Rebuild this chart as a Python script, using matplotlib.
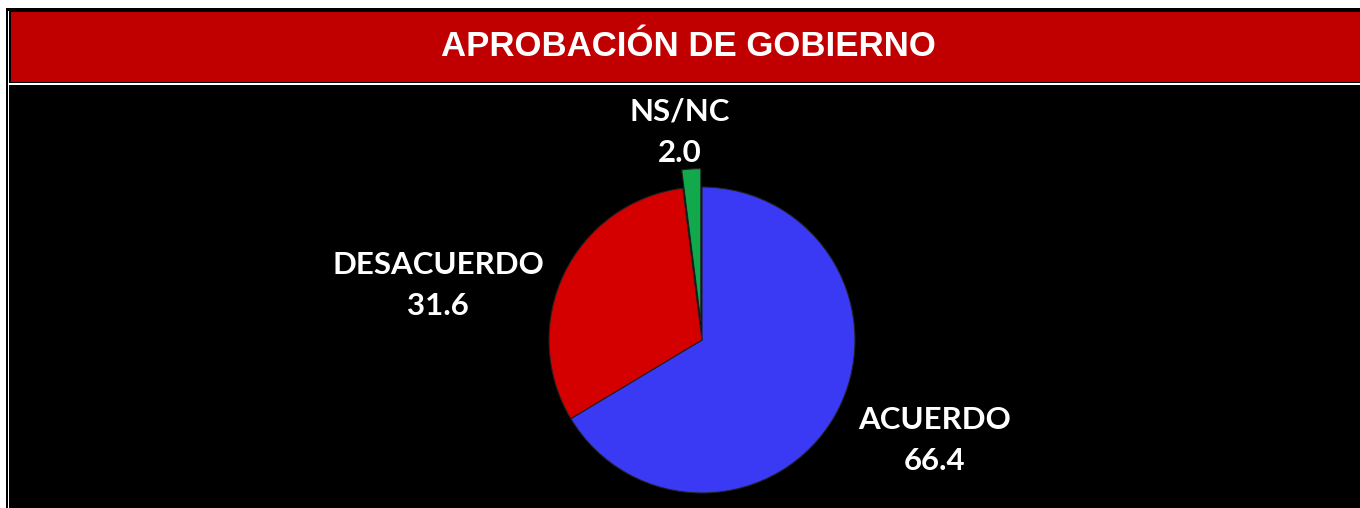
import matplotlib
matplotlib.use("Agg")
import matplotlib.pyplot as plt
from matplotlib.patches import Rectangle

# Data
categories = ["ACUERDO", "DESACUERDO", "NS/NC"]
values = [66.4, 31.6, 2.0]
colors = ["#3a3af5", "#d40000", "#12a84c"]
explode_frac = [0.0, 0.0, 0.12]
title = "APROBACIÓN DE GOBIERNO"

W, H = 1360, 508
fig = plt.figure(figsize=(W / 100, H / 100), dpi=100, facecolor="white")

# Full-figure axes in pixel coordinates (y measured upward)
ax = fig.add_axes([0, 0, 1, 1])


def Y(y_img):
    return H - y_img


def rect(x0, y0, x1, y1, color, z=0):
    ax.add_patch(Rectangle((x0, Y(y1)), x1 - x0, y1 - y0, facecolor=color,
                           edgecolor="none", zorder=z))

# Frame
rect(6, 8, W + 5, H + 5, "black", 0)
rect(7.5, 11, 8.6, H + 5, "white", 1)
rect(10.7, 12, W + 5, 81.7, "#c00000", 1)
rect(8.6, 83.3, W + 5, 84.7, "white", 1)

ax.text(688, Y(47), title, color="white", fontsize=25, fontweight="bold",
        family="Liberation Sans", ha="center", va="center", zorder=5)

# Pie
cx, cy, r = 702, Y(340), 153
wedges, _ = ax.pie(values, colors=colors,
                   explode=[e * r for e in explode_frac], startangle=90,
                   counterclock=False, center=(cx, cy), radius=r,
                   frame=False,
                   wedgeprops=dict(edgecolor="#202020", linewidth=0.8))
for w in wedges:
    w.set_zorder(3)
ax.set_xlim(0, W)
ax.set_ylim(0, H)
ax.set_aspect("equal")
ax.axis("off")

# Labels
label_pos = [(935, 420), (438, 265), (680, 112)]
for cat, val, (lx, ly) in zip(categories, values, label_pos):
    ax.text(lx, Y(ly), cat, color="white", fontsize=22.5, fontweight="bold",
            family="Lato", ha="center", va="center", zorder=5)
    ax.text(lx, Y(ly + 41), f"{val:.1f}", color="white", fontsize=22.5,
            fontweight="bold", family="Lato", ha="center", va="center",
            zorder=5)

fig.savefig("out.png", dpi=100, facecolor="white")
